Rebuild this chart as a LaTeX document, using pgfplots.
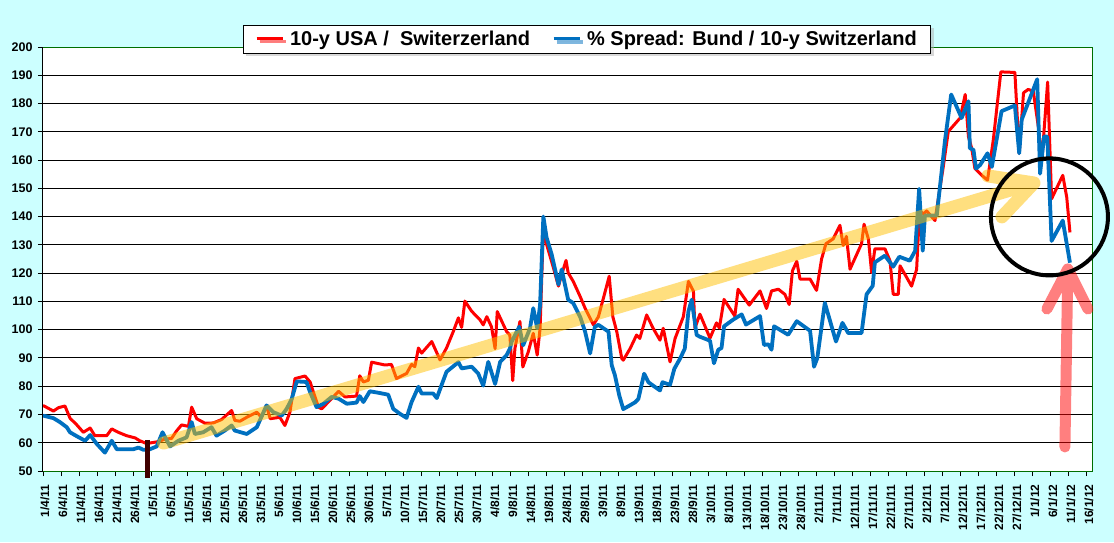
\documentclass[border=0pt]{standalone}
\usepackage{fontspec}
\setmainfont{Liberation Sans}
\usepackage{pgfplots}
\pgfplotsset{compat=1.18}
\usepackage{pgfplotstable}
\usetikzlibrary{shadows}
\definecolor{bgc}{RGB}{204,255,255}
\definecolor{bl}{RGB}{0,112,192}
\definecolor{dg}{RGB}{0,110,0}
\definecolor{brn}{RGB}{64,0,0}
\definecolor{ylw}{RGB}{255,192,0}

\pgfplotstableread{
day val
0 73.2
2.9 71.2
4.3 72.4
6.1 73.0
7.5 68.7
9.4 66.3
11.2 63.7
13.1 65.2
14.4 62.5
17.7 62.5
19.1 64.9
20.9 63.7
23.2 62.5
25.6 61.7
26.9 60.7
28.6 59.8
29.7 59.9
32.0 60.4
33.9 61.3
35.7 61.5
37.0 64.0
38.5 66.3
40.4 65.8
41.3 72.6
42.7 68.5
45.0 66.9
47.3 67.0
49.6 68.2
52.4 71.4
53.3 67.9
54.7 67.6
56.6 69.0
59.4 70.8
60.7 69.0
62.1 73.2
63.1 68.5
65.8 69.0
67.2 66.1
68.6 70.8
70.0 82.7
72.8 83.6
74.2 81.5
76.5 72.6
77.4 72.0
80.2 75.6
82.1 78.2
83.9 76.2
87.1 76.5
88.0 83.7
89.0 81.5
90.4 82.1
91.3 88.5
95.0 87.5
96.8 87.7
98.2 82.7
101.0 84.5
102.4 87.7
103.3 86.9
104.3 93.5
105.2 91.7
108.0 95.8
110.3 89.3
112.1 93.5
114.0 99.4
115.4 104.2
116.3 100.8
117.2 110.1
119.1 106.5
121.4 103.5
122.3 101.7
123.3 104.6
124.6 101.0
125.6 93.3
126.2 106.4
128.8 99.3
129.7 98.1
130.5 82.0
131.1 93.3
132.5 102.9
133.3 86.8
134.8 92.1
136.2 98.7
137.3 91.0
138.1 100.5
139.0 136.0
139.9 130.2
141.8 121.9
143.2 115.4
144.1 119.5
145.3 124.5
145.9 120.1
147.3 117.1
149.2 111.8
150.6 107.6
152.9 101.7
154.3 104.6
155.7 111.2
157.3 118.9
158.3 104.6
159.4 99.3
160.8 89.8
161.2 89.2
163.1 93.3
164.9 98.1
165.8 96.9
167.7 105.2
169.5 100.5
171.4 96.3
172.3 100.5
174.2 88.6
175.6 96.9
177.9 104.6
179.3 117.1
180.7 113.6
181.1 100.5
182.5 105.5
185.3 97.0
187.1 102.4
187.9 100.6
189.2 110.7
192.2 104.8
193.1 114.3
196.2 108.7
199.2 113.7
201.0 107.5
202.4 113.7
204.3 114.3
206.1 112.5
207.3 108.9
208.2 120.8
209.4 124.2
210.3 117.9
213.1 117.9
214.9 113.9
216.3 125.0
217.5 130.4
219.5 132.1
221.4 136.9
222.3 129.8
223.2 133.0
224.2 121.4
227.4 130.4
228.1 137.3
229.3 132.1
230.2 120.2
231.1 128.6
233.9 128.6
235.3 124.4
236.2 112.5
237.6 112.5
238.1 122.6
241.3 115.4
242.7 121.3
243.5 142.0
244.6 141.0
245.5 142.0
247.8 138.6
250.1 157.6
251.5 170.1
254.8 174.9
256.2 183.2
257.1 168.3
258.0 164.2
258.9 157.0
260.8 154.6
262.4 152.9
264.0 167.1
266.1 191.2
270.0 191.0
271.2 162.4
272.4 183.8
273.7 185.0
275.1 184.4
276.5 172.0
277.5 160.0
279.1 187.6
280.2 146.3
283.3 154.6
284.4 146.9
285.3 134.4
}\reddata

\pgfplotstableread{
day val
0 69.6
2.9 68.7
4.7 67.3
6.6 65.5
7.5 63.7
9.4 62.3
11.7 60.7
13.1 62.7
15.0 59.5
17.2 56.5
19.1 60.7
20.5 57.7
25.1 57.7
26.5 58.3
27.9 57.5
29.7 57.7
31.6 58.7
33.2 63.7
35.3 58.7
37.6 60.7
39.9 61.9
41.3 67.3
42.2 63.1
44.5 63.7
46.8 65.5
48.2 62.5
50.5 64.3
52.4 66.1
53.3 64.3
56.6 63.1
59.4 65.5
62.1 73.2
64.0 70.8
66.3 69.6
67.7 72.0
69.1 75.5
70.5 81.7
73.2 81.5
74.2 77.9
76.0 72.6
77.9 73.8
80.2 76.2
82.1 75.6
84.4 73.8
87.1 74.2
88.0 76.5
89.0 74.4
90.8 78.2
93.1 77.7
95.9 77.0
97.3 72.0
99.2 70.2
101.0 68.8
102.4 74.4
104.3 79.8
105.2 77.4
108.4 77.4
109.4 75.8
110.7 80.3
112.1 85.1
115.4 88.5
116.3 86.3
119.1 86.9
120.9 84.5
122.3 80.2
123.7 88.6
125.6 80.8
127.0 88.6
128.8 91.0
129.7 93.3
130.2 95.7
132.3 101.0
133.4 94.5
135.3 100.5
136.2 107.6
137.3 100.5
138.1 108.8
139.0 140.0
139.9 132.6
141.3 126.7
143.2 116.0
144.1 121.3
145.9 110.6
147.3 109.4
149.2 104.6
150.6 99.3
152.0 91.6
153.3 101.0
154.3 101.7
157.1 99.3
158.0 87.4
158.9 83.8
160.1 76.7
161.2 71.9
162.6 72.9
164.5 74.3
165.4 75.5
167.0 84.4
168.2 81.4
169.5 80.2
171.4 78.5
172.1 81.4
174.2 80.5
175.4 86.2
177.0 89.8
178.3 93.3
179.3 106.4
180.2 110.6
181.6 98.1
182.5 97.5
185.3 96.1
186.4 88.1
187.6 92.9
188.5 93.5
189.2 101.2
191.8 103.6
194.1 105.4
195.3 101.8
199.2 104.8
200.3 94.6
201.5 94.8
202.4 92.9
203.1 101.2
207.0 98.2
209.4 103.0
213.1 99.6
214.2 86.9
215.1 89.9
217.2 109.5
220.3 95.8
222.1 102.4
223.7 98.8
227.4 98.8
228.8 112.5
230.5 115.5
231.1 123.8
233.9 126.2
236.2 122.3
237.9 125.8
240.8 124.4
242.3 127.9
243.4 149.8
244.4 127.9
245.0 140.4
248.3 140.4
250.0 160.0
250.6 167.1
252.3 183.2
255.2 174.9
257.1 180.8
257.5 164.2
258.5 163.6
259.2 157.0
260.3 158.2
262.4 162.4
263.6 157.6
266.3 177.3
270.0 179.3
271.2 162.4
271.9 174.3
276.2 188.6
277.0 155.2
278.1 168.3
279.0 168.3
280.2 131.4
283.3 138.6
285.3 123.7
}\bluedata

\begin{document}
\begin{tikzpicture}[x=1pt,y=1pt]
\useasboundingbox (0,0) rectangle (1114,542);
\fill[bgc] (0,0) rectangle (1114,542);
\begin{axis}[
  at={(43pt,71pt)}, anchor=south west,
  scale only axis, width=1050pt, height=424pt,
  xmin=0, xmax=291.7, ymin=50, ymax=200,
  axis background/.style={fill=white},
  axis line style={draw=none},
  xtick={0,5,...,290},
  xticklabels={1/4/11,6/4/11,11/4/11,16/4/11,21/4/11,26/4/11,1/5/11,6/5/11,11/5/11,16/5/11,21/5/11,26/5/11,31/5/11,5/6/11,10/6/11,15/6/11,20/6/11,25/6/11,30/6/11,5/7/11,10/7/11,15/7/11,20/7/11,25/7/11,30/7/11,4/8/11,9/8/11,14/8/11,19/8/11,24/8/11,29/8/11,3/9/11,8/9/11,13/9/11,18/9/11,23/9/11,28/9/11,3/10/11,8/10/11,13/10/11,18/10/11,23/10/11,28/10/11,2/11/11,7/11/11,12/11/11,17/11/11,22/11/11,27/11/11,2/12/11,7/12/11,12/12/11,17/12/11,22/12/11,27/12/11,1/1/12,6/1/12,11/1/12,16/1/12},
  ytick={50,60,...,200},
  ymajorgrids, major grid style={black, line width=0.9pt},
  tick pos=left, tick align=outside, major tick length=5pt,
  major tick style={black, line width=0.9pt},
  xticklabel shift=3pt, yticklabel shift=2pt,
  x tick label style={xshift=2pt, yshift=-2pt, rotate=90, anchor=east, font=\bfseries\fontsize{12}{12}\selectfont},
  y tick label style={font=\bfseries\fontsize{12.5}{12.5}\selectfont},
  /pgf/number format/assume math mode=true,
  clip=false,
  legend columns=2,
  legend style={at={(axis description cs:0.518,1.0189)}, anchor=center, draw=black, line width=0.8pt, fill=white,
    drop shadow={shadow xshift=3pt, shadow yshift=-3pt, fill=gray!60},
    font=\bfseries\fontsize{20}{20}\selectfont,
    /tikz/every even column/.append style={column sep=20pt},
    /tikz/every odd column/.append style={column sep=4pt},
    inner xsep=12pt, inner ysep=4pt},
  legend image code/.code={\draw[#1, line width=3pt] (0pt,0pt) -- (26pt,0pt);},
]
\addplot[red, line width=3pt, line join=round] table[x=day,y=val] {\reddata};
\addlegendentry{10-y USA /\ \ Switerzerland}
\addplot[bl, line width=3.8pt, line join=round] table[x=day,y=val] {\bluedata};
\addlegendentry{\% Spread: Bund / 10-y Switzerland}
\draw[dg, line width=1pt] (rel axis cs:0,0) -- (rel axis cs:1,0) -- (rel axis cs:1,1) -- (rel axis cs:0,1);
\draw[black, line width=1pt] (rel axis cs:0,0) -- (rel axis cs:0,1);
\draw[ylw, opacity=0.5, line width=13pt, line cap=round, line join=round]
  (axis cs:33.5,59.9) -- (axis cs:275.3,151.9)
  (axis cs:262.5,154.4) -- (axis cs:275.3,151.9) -- (axis cs:266.4,139.9);
\draw[red, opacity=0.5, line width=11pt, line cap=round, line join=round]
  (axis cs:283.9,58.5) -- (axis cs:284.7,121.5)
  (axis cs:278.9,107.3) -- (axis cs:284.7,121.5) -- (axis cs:290.3,107.3);
\draw[black, line width=4pt] (axis cs:279.6,139.9) circle[radius=58.5pt];
\draw[brn, line width=4.5pt] (axis cs:29,61) -- (axis cs:29,47.5);
\end{axis}
\end{tikzpicture}
\end{document}
